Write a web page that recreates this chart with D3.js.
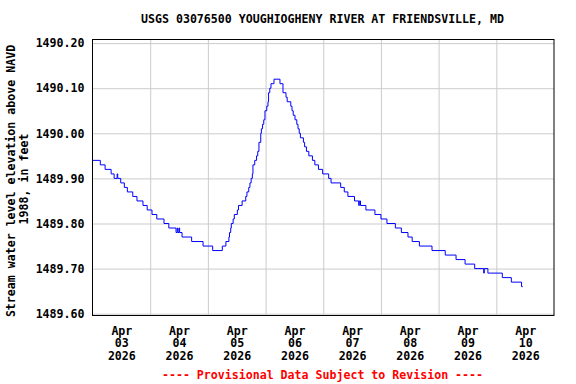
<!DOCTYPE html>
<html>
<head>
<meta charset="utf-8">
<script src="https://cdn.jsdelivr.net/npm/d3@7"></script>
<style>
  body { margin: 0; background: #fff; }
  text { font-family: "DejaVu Sans Mono", monospace; font-weight: bold; font-size: 11.6px; }
</style>
</head>
<body>
<svg id="chart" width="576" height="384"></svg>
<script>
// 15-minute gage readings, only the times where the value changes
var times = [
  "2026-04-03 00:00","2026-04-03 03:15","2026-04-03 05:15","2026-04-03 07:45","2026-04-03 09:00",
  "2026-04-03 10:15","2026-04-03 10:30","2026-04-03 11:45","2026-04-03 13:15","2026-04-03 14:30",
  "2026-04-03 16:45","2026-04-03 18:30","2026-04-03 21:00","2026-04-03 22:45","2026-04-04 00:45",
  "2026-04-04 02:45","2026-04-04 05:45","2026-04-04 07:45","2026-04-04 10:45","2026-04-04 11:15",
  "2026-04-04 11:30","2026-04-04 12:00","2026-04-04 12:15","2026-04-04 13:15","2026-04-04 17:15",
  "2026-04-04 22:00","2026-04-05 02:00","2026-04-05 06:00","2026-04-05 07:30","2026-04-05 08:45",
  "2026-04-05 09:00","2026-04-05 09:30","2026-04-05 09:45","2026-04-05 10:30","2026-04-05 11:00",
  "2026-04-05 12:15","2026-04-05 12:45","2026-04-05 14:15","2026-04-05 15:45","2026-04-05 16:15",
  "2026-04-05 17:00","2026-04-05 17:30","2026-04-05 18:00","2026-04-05 18:30","2026-04-05 18:45",
  "2026-04-05 19:30","2026-04-05 20:15","2026-04-05 20:45","2026-04-05 21:15","2026-04-05 22:00",
  "2026-04-05 22:15","2026-04-05 22:45","2026-04-05 23:15","2026-04-05 23:45","2026-04-06 00:30",
  "2026-04-06 01:00","2026-04-06 01:15","2026-04-06 01:45","2026-04-06 02:15","2026-04-06 03:30",
  "2026-04-06 06:00","2026-04-06 07:15","2026-04-06 08:30","2026-04-06 09:00","2026-04-06 10:30",
  "2026-04-06 11:00","2026-04-06 11:30","2026-04-06 12:15","2026-04-06 13:00","2026-04-06 13:30",
  "2026-04-06 14:00","2026-04-06 14:30","2026-04-06 15:45","2026-04-06 16:15","2026-04-06 17:00",
  "2026-04-06 18:00","2026-04-06 19:30","2026-04-06 20:30","2026-04-06 22:00","2026-04-06 23:45",
  "2026-04-07 02:15","2026-04-07 03:15","2026-04-07 07:15","2026-04-07 08:45","2026-04-07 10:15",
  "2026-04-07 13:00","2026-04-07 14:45","2026-04-07 15:00","2026-04-07 15:30","2026-04-07 17:45",
  "2026-04-07 21:30","2026-04-08 00:00","2026-04-08 02:30","2026-04-08 06:00","2026-04-08 08:30",
  "2026-04-08 11:15","2026-04-08 13:00","2026-04-08 16:00","2026-04-08 21:15","2026-04-09 02:45",
  "2026-04-09 07:15","2026-04-09 11:00","2026-04-09 15:00","2026-04-09 18:45","2026-04-09 19:00",
  "2026-04-09 20:30","2026-04-10 02:30","2026-04-10 06:15","2026-04-10 10:30","2026-04-10 11:00"
];
var levels = [
  1489.94,1489.93,1489.92,1489.91,1489.90,
  1489.91,1489.90,1489.89,1489.88,1489.87,
  1489.86,1489.85,1489.84,1489.83,1489.82,
  1489.81,1489.80,1489.79,1489.78,1489.79,
  1489.78,1489.79,1489.78,1489.77,1489.76,
  1489.75,1489.74,1489.75,1489.76,1489.77,
  1489.78,1489.79,1489.80,1489.81,1489.82,
  1489.83,1489.84,1489.85,1489.86,1489.87,
  1489.88,1489.89,1489.90,1489.91,1489.93,
  1489.94,1489.95,1489.96,1489.98,1490.00,
  1490.01,1490.02,1490.03,1490.05,1490.06,
  1490.07,1490.09,1490.10,1490.11,1490.12,
  1490.11,1490.09,1490.08,1490.07,1490.06,
  1490.05,1490.04,1490.03,1490.02,1490.01,
  1490.00,1489.99,1489.98,1489.97,1489.96,
  1489.95,1489.94,1489.93,1489.92,1489.91,
  1489.90,1489.89,1489.88,1489.87,1489.86,
  1489.85,1489.84,1489.85,1489.84,1489.83,
  1489.82,1489.81,1489.80,1489.79,1489.78,
  1489.77,1489.76,1489.75,1489.74,1489.73,
  1489.72,1489.71,1489.70,1489.69,1489.70,
  1489.69,1489.68,1489.67,1489.66,1489.66
];
var yTicks = [1489.60, 1489.70, 1489.80, 1489.90, 1490.00, 1490.10, 1490.20];
var dayTicks = ["2026-04-03","2026-04-04","2026-04-05","2026-04-06","2026-04-07","2026-04-08","2026-04-09","2026-04-10"];
var titleText = "USGS 03076500 YOUGHIOGHENY RIVER AT FRIENDSVILLE, MD";
var yTitle = ["Stream water level elevation above NAVD", "1988, in feet"];
var footText = "---- Provisional Data Subject to Revision ----";

var parseTime = d3.utcParse("%Y-%m-%d %H:%M");
var parseDay = d3.utcParse("%Y-%m-%d");

var data = times.map(function (t, i) { return { t: parseTime(t), v: levels[i] }; });

// plot box (window.top is reserved, so keep these names distinct)
var plotL = 92.5, plotR = 554, plotT = 39.5, plotB = 315.5;
var svg = d3.select("#chart");

var x = d3.scaleUtc()
    .domain([parseDay("2026-04-03"), parseDay("2026-04-11")])
    .range([plotL, plotR]);
var y = d3.scaleLinear()
    .domain([1489.596, 1490.208])
    .range([plotB, plotT]);

// grid
var gridDays = dayTicks.slice(1).map(parseDay);
svg.append("g")
    .attr("transform", "translate(0," + plotT + ")")
    .call(d3.axisBottom(x).tickValues(gridDays).tickSize(plotB - plotT).tickFormat(""))
    .call(function (g) { g.select(".domain").remove(); })
    .selectAll("line").attr("stroke", "#cccccc");
svg.append("g")
    .attr("transform", "translate(" + plotL + ",0)")
    .call(d3.axisRight(y).tickValues(yTicks).tickSize(plotR - plotL).tickFormat(""))
    .call(function (g) { g.select(".domain").remove(); })
    .selectAll("line").attr("stroke", "#cccccc");

// water level trace
var line = d3.line()
    .curve(d3.curveStepAfter)
    .x(function (d) { return x(d.t); })
    .y(function (d) { return y(d.v); });
svg.append("path")
    .datum(data)
    .attr("fill", "none")
    .attr("stroke", "#0000ff")
    .attr("stroke-width", 1)
    .attr("d", line);

// frame
svg.append("rect")
    .attr("x", plotL).attr("y", plotT)
    .attr("width", plotR - plotL).attr("height", plotB - plotT)
    .attr("fill", "none").attr("stroke", "#000");

// y labels
var yAxis = svg.append("g")
    .attr("transform", "translate(" + plotL + ",0)")
    .call(d3.axisLeft(y).tickValues(yTicks).tickSize(0).tickPadding(8).tickFormat(d3.format(".2f")));
yAxis.select(".domain").remove();
yAxis.attr("font-size", null).attr("font-family", null);
yAxis.selectAll("text").attr("fill", "#000");

// x labels: month / day / year, centred on noon
var fmtM = d3.utcFormat("%b"), fmtD = d3.utcFormat("%d"), fmtY = d3.utcFormat("%Y");
var xAxis = svg.append("g")
    .attr("transform", "translate(0," + plotB + ")")
    .call(d3.axisBottom(x)
        .tickValues(dayTicks.map(function (d) { return d3.utcHour.offset(parseDay(d), 12); }))
        .tickSize(0).tickFormat(""));
xAxis.select(".domain").remove();
xAxis.attr("font-size", null).attr("font-family", null);
xAxis.selectAll(".tick").each(function (d) {
  var t = d3.select(this).append("text")
      .attr("fill", "#000").attr("text-anchor", "middle");
  [fmtM(d), fmtD(d), fmtY(d)].forEach(function (s, i) {
    t.append("tspan").attr("x", 0).attr("y", 19 + i * 12.5).text(s);
  });
});

// titles
svg.append("text")
    .attr("x", 322.5).attr("y", 23)
    .attr("text-anchor", "middle")
    .text(titleText);
svg.append("text")
    .attr("transform", "translate(15,181) rotate(-90)")
    .attr("text-anchor", "middle")
    .text(yTitle[0]);
svg.append("text")
    .attr("transform", "translate(28,179) rotate(-90)")
    .attr("text-anchor", "middle")
    .text(yTitle[1]);
svg.append("text")
    .attr("x", 322.5).attr("y", 379)
    .attr("text-anchor", "middle")
    .attr("fill", "#ff0000")
    .text(footText);
</script>
</body>
</html>
